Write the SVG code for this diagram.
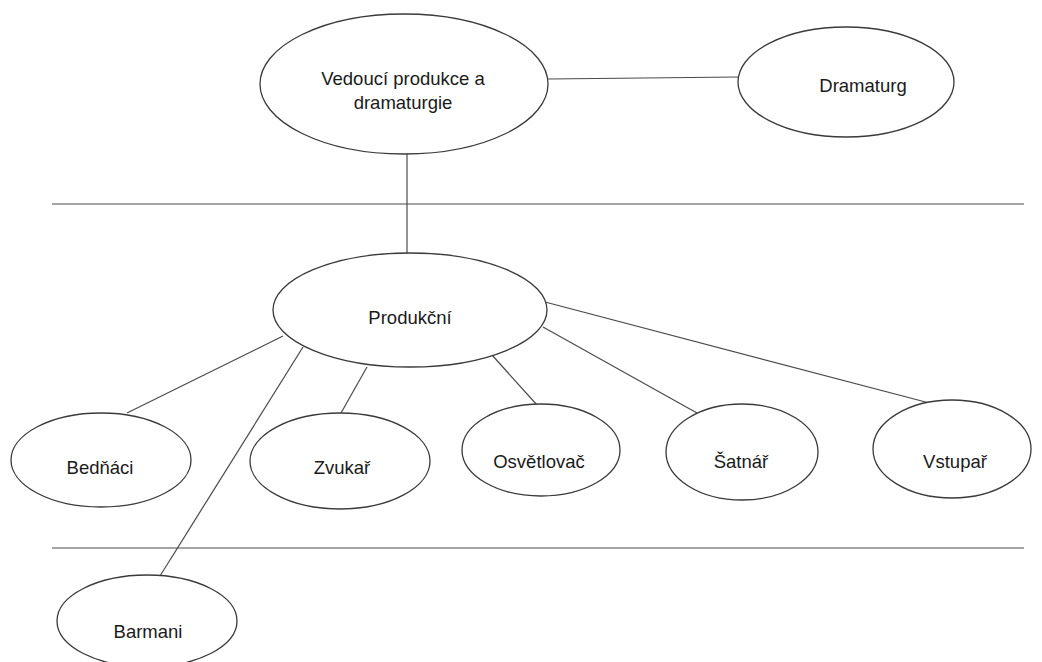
<svg xmlns="http://www.w3.org/2000/svg" width="1042" height="662" viewBox="0 0 1042 662">
<style>
.n ellipse{fill:#fff;stroke:#3a3a3a;stroke-width:1.3}
.t{font-family:"Liberation Sans",Arial,sans-serif;font-size:18.5px;fill:#1a1a1a;text-anchor:middle}
.c line{stroke:#4a4a4a;stroke-width:1.2}
</style>
<rect width="1042" height="662" fill="#fff"/>
<g class="c" id="connectors">
<line x1="52" y1="204" x2="1024" y2="204"/>
<line x1="52" y1="548" x2="1024" y2="548"/>
<line x1="548" y1="79" x2="738" y2="77"/>
<line x1="407" y1="153" x2="407" y2="254"/>
<line x1="283" y1="336" x2="127" y2="413"/>
<line x1="303" y1="347" x2="160" y2="576"/>
<line x1="367" y1="367" x2="341" y2="413"/>
<line x1="492" y1="355" x2="537" y2="405"/>
<line x1="543" y1="327" x2="697" y2="413"/>
<line x1="545" y1="302" x2="937" y2="405"/>
</g>
<g class="n" id="vedouci"><ellipse cx="404" cy="84" rx="144" ry="70"/><text class="t" x="403" y="85">Vedoucí produkce a</text><text class="t" x="403" y="109">dramaturgie</text></g>
<g class="n" id="dramaturg"><ellipse cx="846" cy="82" rx="108" ry="55"/><text class="t" x="863" y="92">Dramaturg</text></g>
<g class="n" id="produkcni"><ellipse cx="410" cy="310" rx="137" ry="57"/><text class="t" x="410" y="324">Produkční</text></g>
<g class="n" id="bednaci"><ellipse cx="101" cy="460" rx="90" ry="47"/><text class="t" x="100" y="474">Bedňáci</text></g>
<g class="n" id="zvukar"><ellipse cx="340" cy="461" rx="90" ry="48"/><text class="t" x="342" y="474">Zvukař</text></g>
<g class="n" id="osvetlovac"><ellipse cx="541" cy="450" rx="79" ry="46"/><text class="t" x="539" y="468">Osvětlovač</text></g>
<g class="n" id="satnar"><ellipse cx="742" cy="452" rx="76" ry="48"/><text class="t" x="741" y="468">Šatnář</text></g>
<g class="n" id="vstupar"><ellipse cx="952" cy="449" rx="79" ry="49"/><text class="t" x="955" y="468">Vstupař</text></g>
<g class="n" id="barmani"><ellipse cx="147" cy="621" rx="90" ry="46"/><text class="t" x="148" y="638">Barmani</text></g>
</svg>
